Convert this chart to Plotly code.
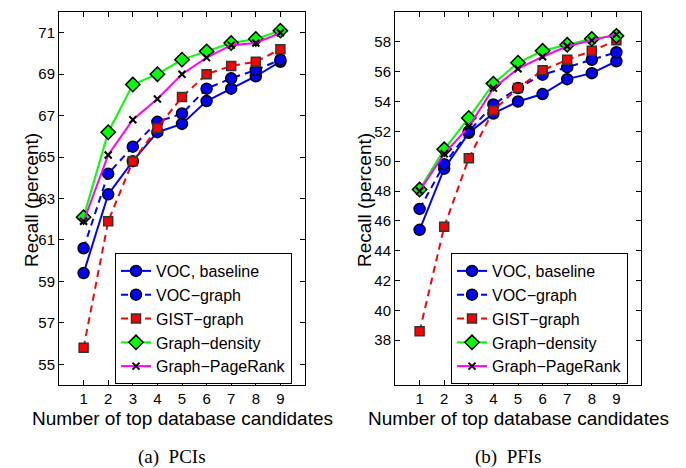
import plotly.graph_objects as go

x_vals = [1, 2, 3, 4, 5, 6, 7, 8, 9]

# (a) PCIs
pci_voc_baseline = [59.4, 63.2, 64.8, 66.2, 66.6, 67.7, 68.3, 68.9, 69.6]
pci_voc_graph = [60.6, 64.2, 65.5, 66.7, 67.1, 68.3, 68.8, 69.2, 69.7]
pci_gist_graph = [55.8, 61.9, 64.8, 66.4, 67.9, 69.0, 69.4, 69.6, 70.2]
pci_graph_density = [62.1, 66.2, 68.5, 69.0, 69.7, 70.1, 70.5, 70.7, 71.1]
pci_graph_pagerank = [61.9, 65.1, 66.8, 67.8, 69.0, 69.8, 70.4, 70.5, 71.0]

# (b) PFIs
pfi_voc_baseline = [45.4, 49.5, 51.9, 53.2, 54.0, 54.5, 55.5, 55.9, 56.7]
pfi_voc_graph = [46.8, 49.8, 52.0, 53.8, 54.9, 55.8, 56.3, 56.8, 57.3]
pfi_gist_graph = [38.6, 45.6, 50.2, 53.4, 54.9, 56.1, 56.8, 57.4, 58.1]
pfi_graph_density = [48.1, 50.8, 52.9, 55.2, 56.6, 57.4, 57.8, 58.2, 58.4]
pfi_graph_pagerank = [48.0, 50.5, 52.3, 54.9, 56.2, 57.0, 57.7, 58.1, 58.5]

series_names = ["VOC, baseline", "VOC\u2212graph", "GIST\u2212graph", "Graph\u2212density", "Graph\u2212PageRank"]
pci_yticks = [55, 57, 59, 61, 63, 65, 67, 69, 71]
pfi_yticks = [38, 40, 42, 44, 46, 48, 50, 52, 54, 56, 58]
captions = ["(a)  PCIs", "(b)  PFIs"]

FONT = "Liberation Sans, Arial, Helvetica, sans-serif"

styles = [
    dict(line=dict(color="#0000FF", width=2),
         marker=dict(symbol="circle", size=11, color="#0000FF", line=dict(color="black", width=1.5))),
    dict(line=dict(color="#0000FF", width=2, dash="7px,5px"),
         marker=dict(symbol="circle", size=11, color="#0000FF", line=dict(color="black", width=1.5))),
    dict(line=dict(color="#FF0000", width=2, dash="7px,5px"),
         marker=dict(symbol="square", size=9, color="#FF0000", line=dict(color="#333333", width=1.5))),
    dict(line=dict(color="#00FF00", width=2),
         marker=dict(symbol="diamond", size=11, color="#00FF00", line=dict(color="black", width=1.5))),
    dict(line=dict(color="#FF00FF", width=2),
         marker=dict(symbol="x-thin", size=7, color="black", line=dict(color="black", width=2))),
]

fig = go.Figure()

pci_series = [pci_voc_baseline, pci_voc_graph, pci_gist_graph, pci_graph_density, pci_graph_pagerank]
pfi_series = [pfi_voc_baseline, pfi_voc_graph, pfi_gist_graph, pfi_graph_density, pfi_graph_pagerank]

for name, ys, st in zip(series_names, pci_series, styles):
    fig.add_trace(go.Scatter(x=x_vals, y=ys, name=name, mode="lines+markers",
                             xaxis="x", yaxis="y", legend="legend", **st))
for name, ys, st in zip(series_names, pfi_series, styles):
    fig.add_trace(go.Scatter(x=x_vals, y=ys, name=name, mode="lines+markers",
                             xaxis="x2", yaxis="y2", legend="legend2", **st))

W, H = 686, 468
ydom = [1 - 385 / H, 1 - 12 / H]
axis_common = dict(showline=True, linecolor="black", linewidth=1, mirror="ticks",
                   ticks="inside", ticklen=5, tickcolor="black", showgrid=False, zeroline=False,
                   tickfont=dict(family=FONT, size=15, color="black"))

legend_common = dict(xanchor="left", yanchor="top",
                     bgcolor="white", bordercolor="black", borderwidth=1,
                     font=dict(family=FONT, size=16, color="black"), itemwidth=30, tracegroupgap=0)

fig.update_layout(
    width=W, height=H,
    margin=dict(l=0, r=0, t=0, b=0),
    paper_bgcolor="white", plot_bgcolor="white",
    font=dict(family=FONT, color="black"),
    xaxis=dict(domain=[59 / W, 305 / W], range=[0, 10], tickvals=x_vals, anchor="y", **axis_common),
    yaxis=dict(domain=ydom, range=[54, 72], tickvals=pci_yticks, anchor="x", **axis_common),
    xaxis2=dict(domain=[395 / W, 641 / W], range=[0, 10], tickvals=x_vals, anchor="y2", **axis_common),
    yaxis2=dict(domain=ydom, range=[35, 60], tickvals=pfi_yticks, anchor="x2", **axis_common),
    legend=dict(x=115 / W, y=1 - 253 / H, **legend_common),
    legend2=dict(x=451 / W, y=1 - 253 / H, **legend_common),
    showlegend=True,
)

ann = []
for cx in [182 / W, 518 / W]:
    ann.append(dict(text="Number of top database candidates", x=cx, y=1 - 418 / H,
                    xref="paper", yref="paper", showarrow=False, xanchor="center", yanchor="middle",
                    font=dict(family=FONT, size=19, color="black")))
for cx in [31 / W, 364 / W]:
    ann.append(dict(text="Recall (percent)", x=cx, y=1 - 200 / H, textangle=-90,
                    xref="paper", yref="paper", showarrow=False, xanchor="center", yanchor="middle",
                    font=dict(family=FONT, size=19, color="black")))
for cap, cx in zip(captions, [172 / W, 508 / W]):
    ann.append(dict(text=cap, x=cx, y=1 - 457 / H,
                    xref="paper", yref="paper", showarrow=False, xanchor="center", yanchor="middle",
                    font=dict(family="Liberation Serif, Times New Roman, serif", size=19, color="black")))
fig.update_layout(annotations=ann)

fig.write_html("out.html", config={"displayModeBar": False},
               post_script="document.body.style.margin='0px';document.body.style.overflow='hidden';")
